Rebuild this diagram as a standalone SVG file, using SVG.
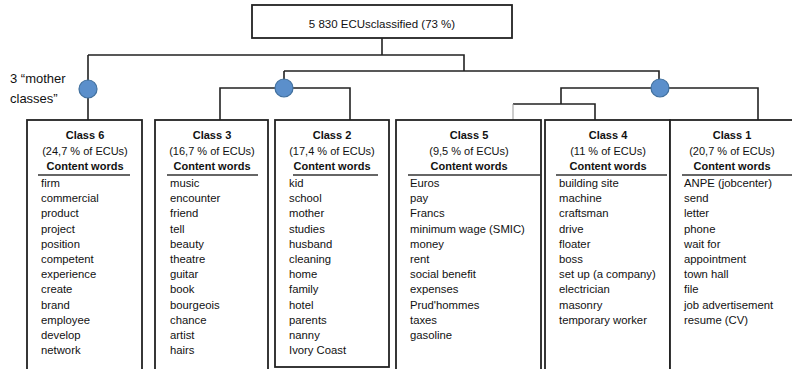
<svg xmlns="http://www.w3.org/2000/svg" width="792" height="369" viewBox="0 0 792 369">
<style>
.box{fill:#fff;stroke:#222;stroke-width:1.8}
.ln{fill:none;stroke:#222;stroke-width:1.6}
.faint{fill:none;stroke:#999;stroke-width:1}
.dot{fill:#5b8fcb;stroke:#41709e;stroke-width:1.2}
text{font-family:"Liberation Sans",Arial,sans-serif;fill:#111}
.h{font-size:11px;font-weight:bold;text-anchor:middle}
.p{font-size:11px;text-anchor:middle}
.w{font-size:11.3px}
.ul{stroke:#333;stroke-width:1.4}
</style>
<rect width="792" height="369" fill="#fff"/>
<g id="root">
<rect class="box" x="252" y="5" width="260" height="33"/>
<text x="382" y="28" style="font-size:11.5px" text-anchor="middle">5 830 ECUsclassified (73 %)</text>
</g>
<g id="label">
<text x="10" y="83" style="font-size:13px">3 “mother</text>
<text x="10" y="103" style="font-size:13px">classes”</text>
</g>
<g id="connectors">
<path class="ln" d="M382 38V55M88 55H464V71M88 55V120M284 71H659V88M284 71V88M220 120V88H350V120M561 104V88H758V120M513 104H595V120"/>
<path class="faint" d="M513 104V120"/>
<circle class="dot" cx="88" cy="89" r="9"/>
<circle class="dot" cx="284" cy="88" r="9"/>
<circle class="dot" cx="660" cy="88" r="9"/>
</g>
<g id="class6">
<rect class="box" x="27" y="120" width="115" height="255"/>
<text class="h" x="85" y="139">Class 6</text>
<text class="p" x="85" y="155">(24,7 % of ECUs)</text>
<text class="h" x="85" y="170">Content words</text>
<line class="ul" x1="38" y1="175" x2="130" y2="175"/>
<text class="w" x="41" y="187">firm</text>
<text class="w" x="41" y="202.2">commercial</text>
<text class="w" x="41" y="217.4">product</text>
<text class="w" x="41" y="232.6">project</text>
<text class="w" x="41" y="247.8">position</text>
<text class="w" x="41" y="263">competent</text>
<text class="w" x="41" y="278.2">experience</text>
<text class="w" x="41" y="293.4">create</text>
<text class="w" x="41" y="308.6">brand</text>
<text class="w" x="41" y="323.8">employee</text>
<text class="w" x="41" y="339">develop</text>
<text class="w" x="41" y="354.2">network</text>
</g>
<g id="class3">
<rect class="box" x="155" y="120" width="113" height="255"/>
<text class="h" x="212" y="139">Class 3</text>
<text class="p" x="212" y="155">(16,7 % of ECUs)</text>
<text class="h" x="212" y="170">Content words</text>
<line class="ul" x1="167" y1="175" x2="258" y2="175"/>
<text class="w" x="170" y="187">music</text>
<text class="w" x="170" y="202.2">encounter</text>
<text class="w" x="170" y="217.4">friend</text>
<text class="w" x="170" y="232.6">tell</text>
<text class="w" x="170" y="247.8">beauty</text>
<text class="w" x="170" y="263">theatre</text>
<text class="w" x="170" y="278.2">guitar</text>
<text class="w" x="170" y="293.4">book</text>
<text class="w" x="170" y="308.6">bourgeois</text>
<text class="w" x="170" y="323.8">chance</text>
<text class="w" x="170" y="339">artist</text>
<text class="w" x="170" y="354.2">hairs</text>
</g>
<g id="class2">
<rect class="box" x="275" y="120" width="114" height="247"/>
<text class="h" x="332" y="139">Class 2</text>
<text class="p" x="332" y="155">(17,4 % of ECUs)</text>
<text class="h" x="332" y="170">Content words</text>
<line class="ul" x1="293" y1="175" x2="378" y2="175"/>
<text class="w" x="289" y="187">kid</text>
<text class="w" x="289" y="202.2">school</text>
<text class="w" x="289" y="217.4">mother</text>
<text class="w" x="289" y="232.6">studies</text>
<text class="w" x="289" y="247.8">husband</text>
<text class="w" x="289" y="263">cleaning</text>
<text class="w" x="289" y="278.2">home</text>
<text class="w" x="289" y="293.4">family</text>
<text class="w" x="289" y="308.6">hotel</text>
<text class="w" x="289" y="323.8">parents</text>
<text class="w" x="289" y="339">nanny</text>
<text class="w" x="289" y="354.2">Ivory Coast</text>
</g>
<g id="class5">
<rect class="box" x="396" y="120" width="145" height="255"/>
<text class="h" x="469" y="139">Class 5</text>
<text class="p" x="469" y="155">(9,5 % of ECUs)</text>
<text class="h" x="469" y="170">Content words</text>
<line class="ul" x1="408" y1="175" x2="541" y2="175"/>
<text class="w" x="410" y="187">Euros</text>
<text class="w" x="410" y="202.2">pay</text>
<text class="w" x="410" y="217.4">Francs</text>
<text class="w" x="410" y="232.6">minimum wage (SMIC)</text>
<text class="w" x="410" y="247.8">money</text>
<text class="w" x="410" y="263">rent</text>
<text class="w" x="410" y="278.2">social benefit</text>
<text class="w" x="410" y="293.4">expenses</text>
<text class="w" x="410" y="308.6">Prud'hommes</text>
<text class="w" x="410" y="323.8">taxes</text>
<text class="w" x="410" y="339">gasoline</text>
</g>
<g id="class4">
<rect class="box" x="545" y="120" width="125" height="255"/>
<text class="h" x="608" y="139">Class 4</text>
<text class="p" x="608" y="155">(11 % of ECUs)</text>
<text class="h" x="608" y="170">Content words</text>
<line class="ul" x1="556" y1="175" x2="667" y2="175"/>
<text class="w" x="559" y="187">building site</text>
<text class="w" x="559" y="202.2">machine</text>
<text class="w" x="559" y="217.4">craftsman</text>
<text class="w" x="559" y="232.6">drive</text>
<text class="w" x="559" y="247.8">floater</text>
<text class="w" x="559" y="263">boss</text>
<text class="w" x="559" y="278.2">set up (a company)</text>
<text class="w" x="559" y="293.4">electrician</text>
<text class="w" x="559" y="308.6">masonry</text>
<text class="w" x="559" y="323.8">temporary worker</text>
</g>
<g id="class1">
<rect class="box" x="670" y="120" width="130" height="255"/>
<text class="h" x="732" y="139">Class 1</text>
<text class="p" x="732" y="155">(20,7 % of ECUs)</text>
<text class="h" x="732" y="170">Content words</text>
<line class="ul" x1="682" y1="175" x2="792" y2="175"/>
<text class="w" x="684" y="187">ANPE (jobcenter)</text>
<text class="w" x="684" y="202.2">send</text>
<text class="w" x="684" y="217.4">letter</text>
<text class="w" x="684" y="232.6">phone</text>
<text class="w" x="684" y="247.8">wait for</text>
<text class="w" x="684" y="263">appointment</text>
<text class="w" x="684" y="278.2">town hall</text>
<text class="w" x="684" y="293.4">file</text>
<text class="w" x="684" y="308.6">job advertisement</text>
<text class="w" x="684" y="323.8">resume (CV)</text>
</g>
</svg>
